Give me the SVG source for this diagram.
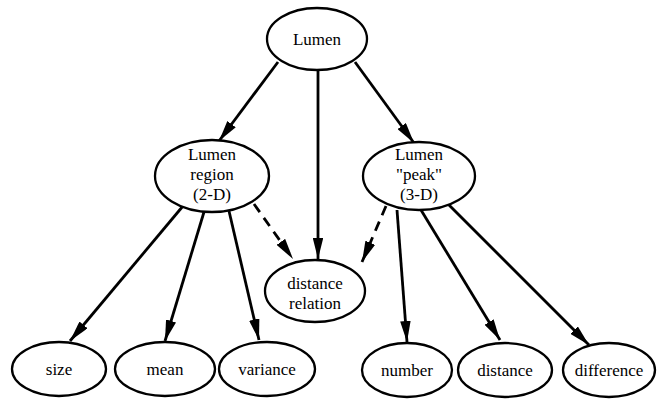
<svg xmlns="http://www.w3.org/2000/svg" width="658" height="399" viewBox="0 0 658 399">
<style>
.n ellipse{fill:#fff;stroke:#000;stroke-width:2.3}
.e line{stroke:#000;stroke-width:2.8}
.e .d{stroke-dasharray:10,7}
</style>
<defs>
<marker id="a" viewBox="0 0 20 10" refX="20" refY="5" markerWidth="7.5" markerHeight="3.75" orient="auto" markerUnits="strokeWidth"><path d="M0,0 L20,5 L0,10 z" fill="#000"/></marker>
</defs>
<rect width="658" height="399" fill="#fff"/>
<g class="e">
<line x1="278" y1="62" x2="219" y2="141" marker-end="url(#a)"/>
<line x1="318" y1="70" x2="318" y2="259" marker-end="url(#a)"/>
<line x1="355" y1="62" x2="414" y2="143" marker-end="url(#a)"/>
<line class="d" x1="254" y1="204" x2="293" y2="259" marker-end="url(#a)"/>
<line class="d" x1="386" y1="206" x2="362" y2="262" marker-end="url(#a)"/>
<line x1="183" y1="206" x2="70" y2="341" marker-end="url(#a)"/>
<line x1="204" y1="212" x2="165" y2="341" marker-end="url(#a)"/>
<line x1="229" y1="211" x2="259" y2="340" marker-end="url(#a)"/>
<line x1="397" y1="210" x2="407" y2="342" marker-end="url(#a)"/>
<line x1="421" y1="210" x2="500" y2="340" marker-end="url(#a)"/>
<line x1="447" y1="203" x2="589" y2="345" marker-end="url(#a)"/>
</g>
<g font-family="Liberation Serif" font-size="17" text-anchor="middle" fill="#000">
<g id="lumen" class="n"><ellipse cx="317" cy="39" rx="50" ry="31"/><text x="317" y="45">Lumen</text></g>
<g id="region" class="n"><ellipse cx="212" cy="176" rx="57" ry="36"/><text x="212" y="160">Lumen</text><text x="212" y="180">region</text><text x="212" y="200">(2-D)</text></g>
<g id="peak" class="n"><ellipse cx="419" cy="176" rx="56" ry="34"/><text x="419" y="160">Lumen</text><text x="419" y="180">"peak"</text><text x="419" y="200">(3-D)</text></g>
<g id="distrel" class="n"><ellipse cx="315" cy="291" rx="50" ry="31"/><text x="315" y="289">distance</text><text x="315" y="309">relation</text></g>
<g id="size" class="n"><ellipse cx="59" cy="369" rx="47" ry="27"/><text x="59" y="375">size</text></g>
<g id="mean" class="n"><ellipse cx="165" cy="369" rx="50" ry="27"/><text x="165" y="375">mean</text></g>
<g id="variance" class="n"><ellipse cx="267" cy="369" rx="48" ry="27"/><text x="267" y="375">variance</text></g>
<g id="number" class="n"><ellipse cx="407" cy="370" rx="45" ry="27"/><text x="407" y="376">number</text></g>
<g id="distance" class="n"><ellipse cx="505" cy="370" rx="47" ry="27"/><text x="505" y="376">distance</text></g>
<g id="difference" class="n"><ellipse cx="609" cy="370" rx="46" ry="27"/><text x="609" y="376">difference</text></g>
</g>
</svg>
